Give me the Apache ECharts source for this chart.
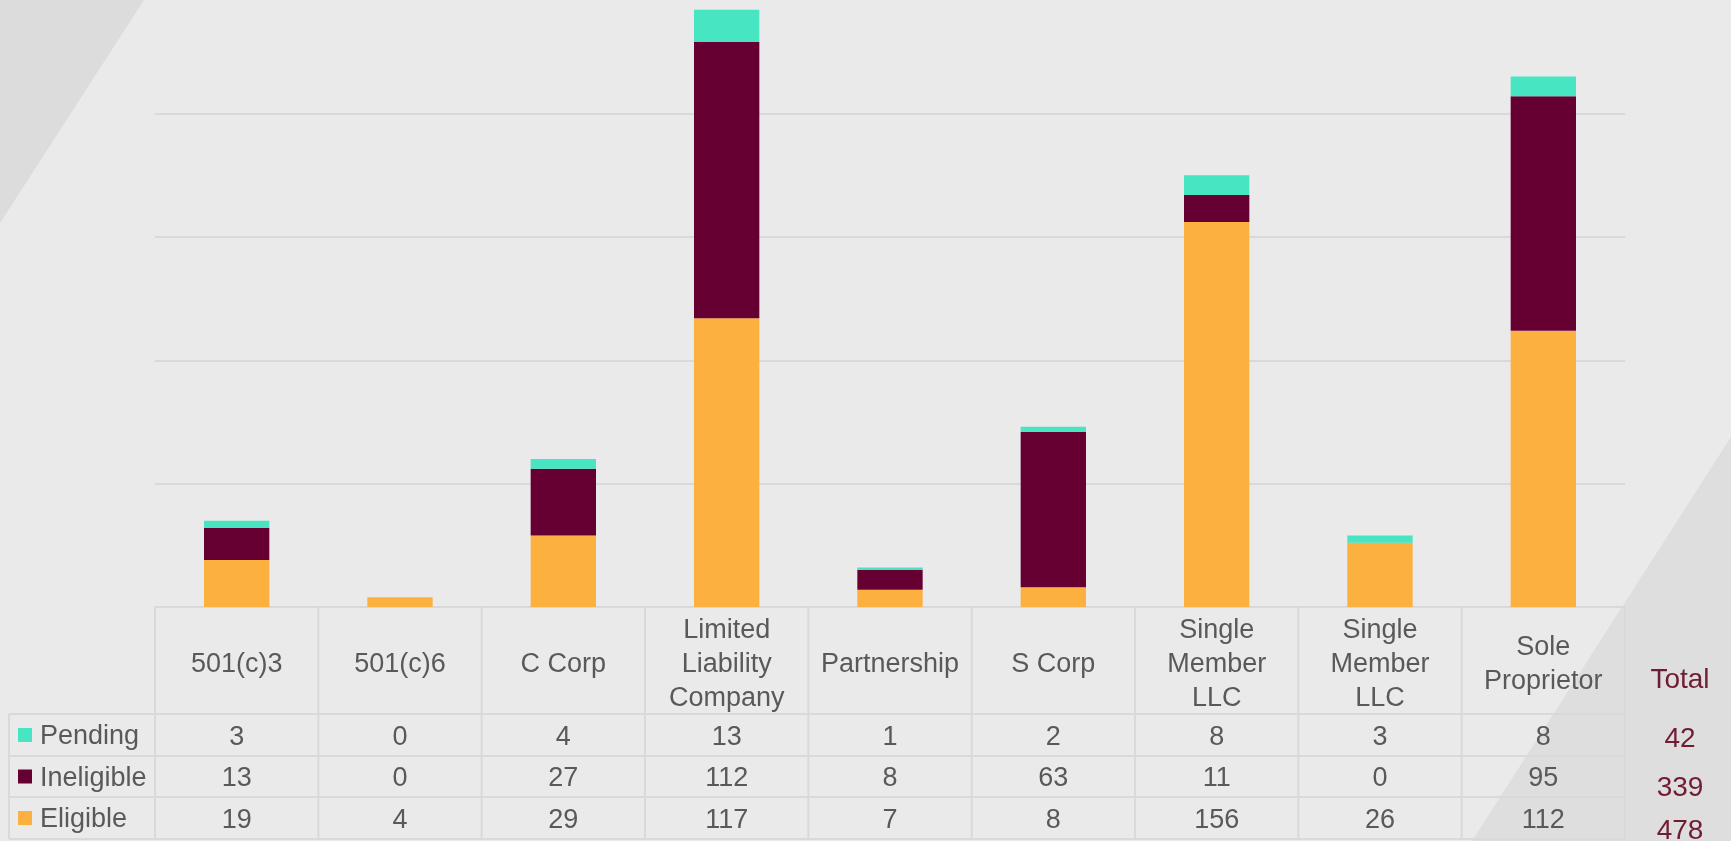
<!DOCTYPE html>
<html>
<head>
<meta charset="utf-8">
<script src="https://cdn.jsdelivr.net/npm/echarts@6/dist/echarts.min.js"></script>
<style>
  html, body { margin: 0; padding: 0; background: #EAEAEA; }
  #main { width: 1731px; height: 841px; }
</style>
</head>
<body>
<div id="main"></div>
<script>
// data
var categories = ['501(c)3', '501(c)6', 'C Corp', 'Limited\nLiability\nCompany', 'Partnership', 'S Corp', 'Single\nMember\nLLC', 'Single\nMember\nLLC', 'Sole\nProprietor'];
var pending = [3, 0, 4, 13, 1, 2, 8, 3, 8];
var ineligible = [13, 0, 27, 112, 8, 63, 11, 0, 95];
var eligible = [19, 4, 29, 117, 7, 8, 156, 26, 112];
var totalLabels = ['42', '339', '478'];
var rowNames = ['Pending', 'Ineligible', 'Eligible'];

var colors = { Pending: '#48E5C2', Ineligible: '#660033', Eligible: '#FBB040' };
var textColor = '#595959';
var lineColor = '#D9D9D9';
var font = '"Liberation Sans", Arial, sans-serif';

var dom = document.getElementById('main');
var myChart = echarts.init(dom);

var option = {
    backgroundColor: '#EAEAEA',
    animation: false,
    grid: {
        left: 155,
        right: 106,
        top: 0,
        bottom: 234
    },
    xAxis: [
        {
            type: 'category',
            data: categories,
            axisLine: { show: true, lineStyle: { color: lineColor, width: 2 } },
            axisTick: { show: false },
            axisLabel: { show: false }
        }
    ],
    yAxis: [
        {
            type: 'value',
            min: 0,
            max: 246,
            interval: 50,
            axisLine: { show: false },
            axisTick: { show: false },
            axisLabel: { show: false },
            splitLine: { showMaxLine: false, lineStyle: { color: lineColor, width: 2 } }
        }
    ],
    series: [
        { name: 'Eligible', type: 'bar', stack: 'all', barWidth: '40%', color: colors.Eligible, data: eligible },
        { name: 'Ineligible', type: 'bar', stack: 'all', color: colors.Ineligible, data: ineligible },
        { name: 'Pending', type: 'bar', stack: 'all', color: colors.Pending, data: pending }
    ]
};

myChart.setOption(option, true);

// table under the chart, built on the axis positions
var base = myChart.convertToPixel({ yAxisIndex: 0 }, 0);
var c0 = myChart.convertToPixel({ xAxisIndex: 0 }, 0);
var c1 = myChart.convertToPixel({ xAxisIndex: 0 }, 1);
var band = c1 - c0;
var tableLeft = c0 - band / 2;
var tableRight = tableLeft + band * categories.length;
var legendLeft = 9;
var headerBottom = 714;
var rowLines = [714, 756, 797, 839];
var rowData = [pending, ineligible, eligible];

var g = [];
// background triangles
g.push({ type: 'polygon', z: -10, shape: { points: [[0, 0], [144, 0], [0, 223]] }, style: { fill: '#DCDCDC' } });
g.push({ type: 'polygon', z: -10, shape: { points: [[1731, 437], [1731, 841], [1472, 841]] }, style: { fill: '#DEDEDE' } });

function hline(x1, x2, y) {
    g.push({ type: 'line', z: 5, shape: { x1: x1, y1: y, x2: x2, y2: y }, style: { stroke: lineColor, lineWidth: 2 } });
}
function vline(x, y1, y2) {
    g.push({ type: 'line', z: 5, shape: { x1: x, y1: y1, x2: x, y2: y2 }, style: { stroke: lineColor, lineWidth: 2 } });
}

rowLines.forEach(function (y) { hline(legendLeft, tableRight, y); });
vline(legendLeft, headerBottom, rowLines[3]);
for (var i = 0; i <= categories.length; i++) {
    vline(tableLeft + band * i, base, rowLines[3]);
}

// header labels
categories.forEach(function (name, i) {
    g.push({
        type: 'text', z: 6,
        x: myChart.convertToPixel({ xAxisIndex: 0 }, i), y: (base + headerBottom) / 2 + 4,
        style: { text: name, fill: textColor, font: '27px ' + font, align: 'center', verticalAlign: 'middle', lineHeight: 34 }
    });
});

// value rows + legend
rowNames.forEach(function (name, r) {
    var yc = (rowLines[r] + rowLines[r + 1]) / 2;
    g.push({ type: 'rect', z: 6, shape: { x: 18, y: yc - 7, width: 14, height: 14 }, style: { fill: colors[name] } });
    g.push({
        type: 'text', z: 6, x: 40, y: yc + 2,
        style: { text: name, fill: textColor, font: '27px ' + font, align: 'left', verticalAlign: 'middle' }
    });
    rowData[r].forEach(function (v, i) {
        g.push({
            type: 'text', z: 6,
            x: myChart.convertToPixel({ xAxisIndex: 0 }, i), y: yc + 2.5,
            style: { text: String(v), fill: textColor, font: '27px ' + font, align: 'center', verticalAlign: 'middle' }
        });
    });
});

// totals column
var totalX = 1680;
var totalYs = [739, 788, 831];
g.push({
    type: 'text', z: 6, x: totalX, y: 680,
    style: { text: 'Total', fill: '#701C32', font: '28px ' + font, align: 'center', verticalAlign: 'middle' }
});
totalLabels.forEach(function (t, r) {
    g.push({
        type: 'text', z: 6, x: totalX, y: totalYs[r],
        style: { text: t, fill: '#701C32', font: '28px ' + font, align: 'center', verticalAlign: 'middle' }
    });
});

myChart.setOption({ graphic: g });
</script>
</body>
</html>
